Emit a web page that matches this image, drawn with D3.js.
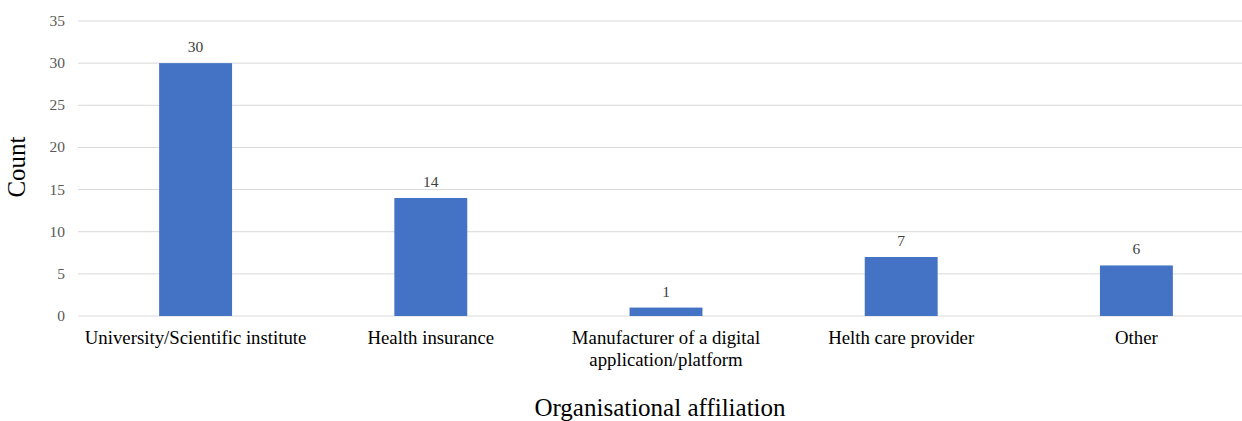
<!DOCTYPE html>
<html>
<head>
<meta charset="utf-8">
<script src="https://cdn.jsdelivr.net/npm/d3@7"></script>
<style>
  body { margin: 0; background: #fff; }
  svg { display: block; font-family: "Liberation Serif", "Times New Roman", serif; }
</style>
</head>
<body>
<svg id="chart"></svg>
<script>
var categories = ["University/Scientific institute", "Health insurance", "Manufacturer of a digital application/platform", "Helth care provider", "Other"];
var counts = [30, 14, 1, 7, 6];
var yTicks = [0, 5, 10, 15, 20, 25, 30, 35];
// wrapped category label lines
var labelLines = [["University/Scientific institute"], ["Health insurance"], ["Manufacturer of a digital", "application/platform"], ["Helth care provider"], ["Other"]];

var width = 1242;
var height = 421;
var plotLeft = 78;
var plotRight = 1254;
var plotTop = 21;
var plotBottom = 316;

var svg = d3.select("#chart")
  .attr("width", width)
  .attr("height", height);

var x = d3.scaleBand()
  .domain(categories)
  .range([plotLeft, plotRight])
  .paddingInner(0.69)
  .paddingOuter(0.345);

var y = d3.scaleLinear()
  .domain([0, 35])
  .range([plotBottom, plotTop]);

// gridlines
svg.append("g")
  .selectAll("line")
  .data(yTicks)
  .join("line")
  .attr("x1", plotLeft)
  .attr("x2", plotRight)
  .attr("y1", d => y(d))
  .attr("y2", d => y(d))
  .attr("stroke", "#d9d9d9")
  .attr("stroke-width", 1);

// y tick labels
svg.append("g")
  .selectAll("text")
  .data(yTicks)
  .join("text")
  .attr("x", 65)
  .attr("y", d => y(d) + 5)
  .attr("text-anchor", "end")
  .attr("font-size", 15.5)
  .attr("fill", "#595959")
  .text(d => d);

// bars
svg.append("g")
  .selectAll("rect")
  .data(counts)
  .join("rect")
  .attr("x", (d, i) => x(categories[i]))
  .attr("y", d => y(d))
  .attr("width", x.bandwidth())
  .attr("height", d => y(0) - y(d))
  .attr("fill", "#4472c4");

// value labels
svg.append("g")
  .selectAll("text")
  .data(counts)
  .join("text")
  .attr("x", (d, i) => x(categories[i]) + x.bandwidth() / 2)
  .attr("y", d => y(d) - 11)
  .attr("text-anchor", "middle")
  .attr("font-size", 15.5)
  .attr("fill", "#404040")
  .text(d => d);

// category labels
var cat = svg.append("g")
  .selectAll("text")
  .data(labelLines)
  .join("text")
  .attr("text-anchor", "middle")
  .attr("font-size", 18.8)
  .attr("fill", "#000");

cat.each(function(lines, i) {
  d3.select(this).selectAll("tspan")
    .data(lines)
    .join("tspan")
    .attr("x", x(categories[i]) + x.bandwidth() / 2)
    .attr("y", (d, j) => 344 + j * 22)
    .text(d => d);
});

// axis titles
svg.append("text")
  .attr("transform", "translate(25,167) rotate(-90)")
  .attr("text-anchor", "middle")
  .attr("font-size", 25)
  .attr("fill", "#000")
  .text("Count");

svg.append("text")
  .attr("x", 660)
  .attr("y", 416)
  .attr("text-anchor", "middle")
  .attr("font-size", 25)
  .attr("fill", "#000")
  .text("Organisational affiliation");
</script>
</body>
</html>
